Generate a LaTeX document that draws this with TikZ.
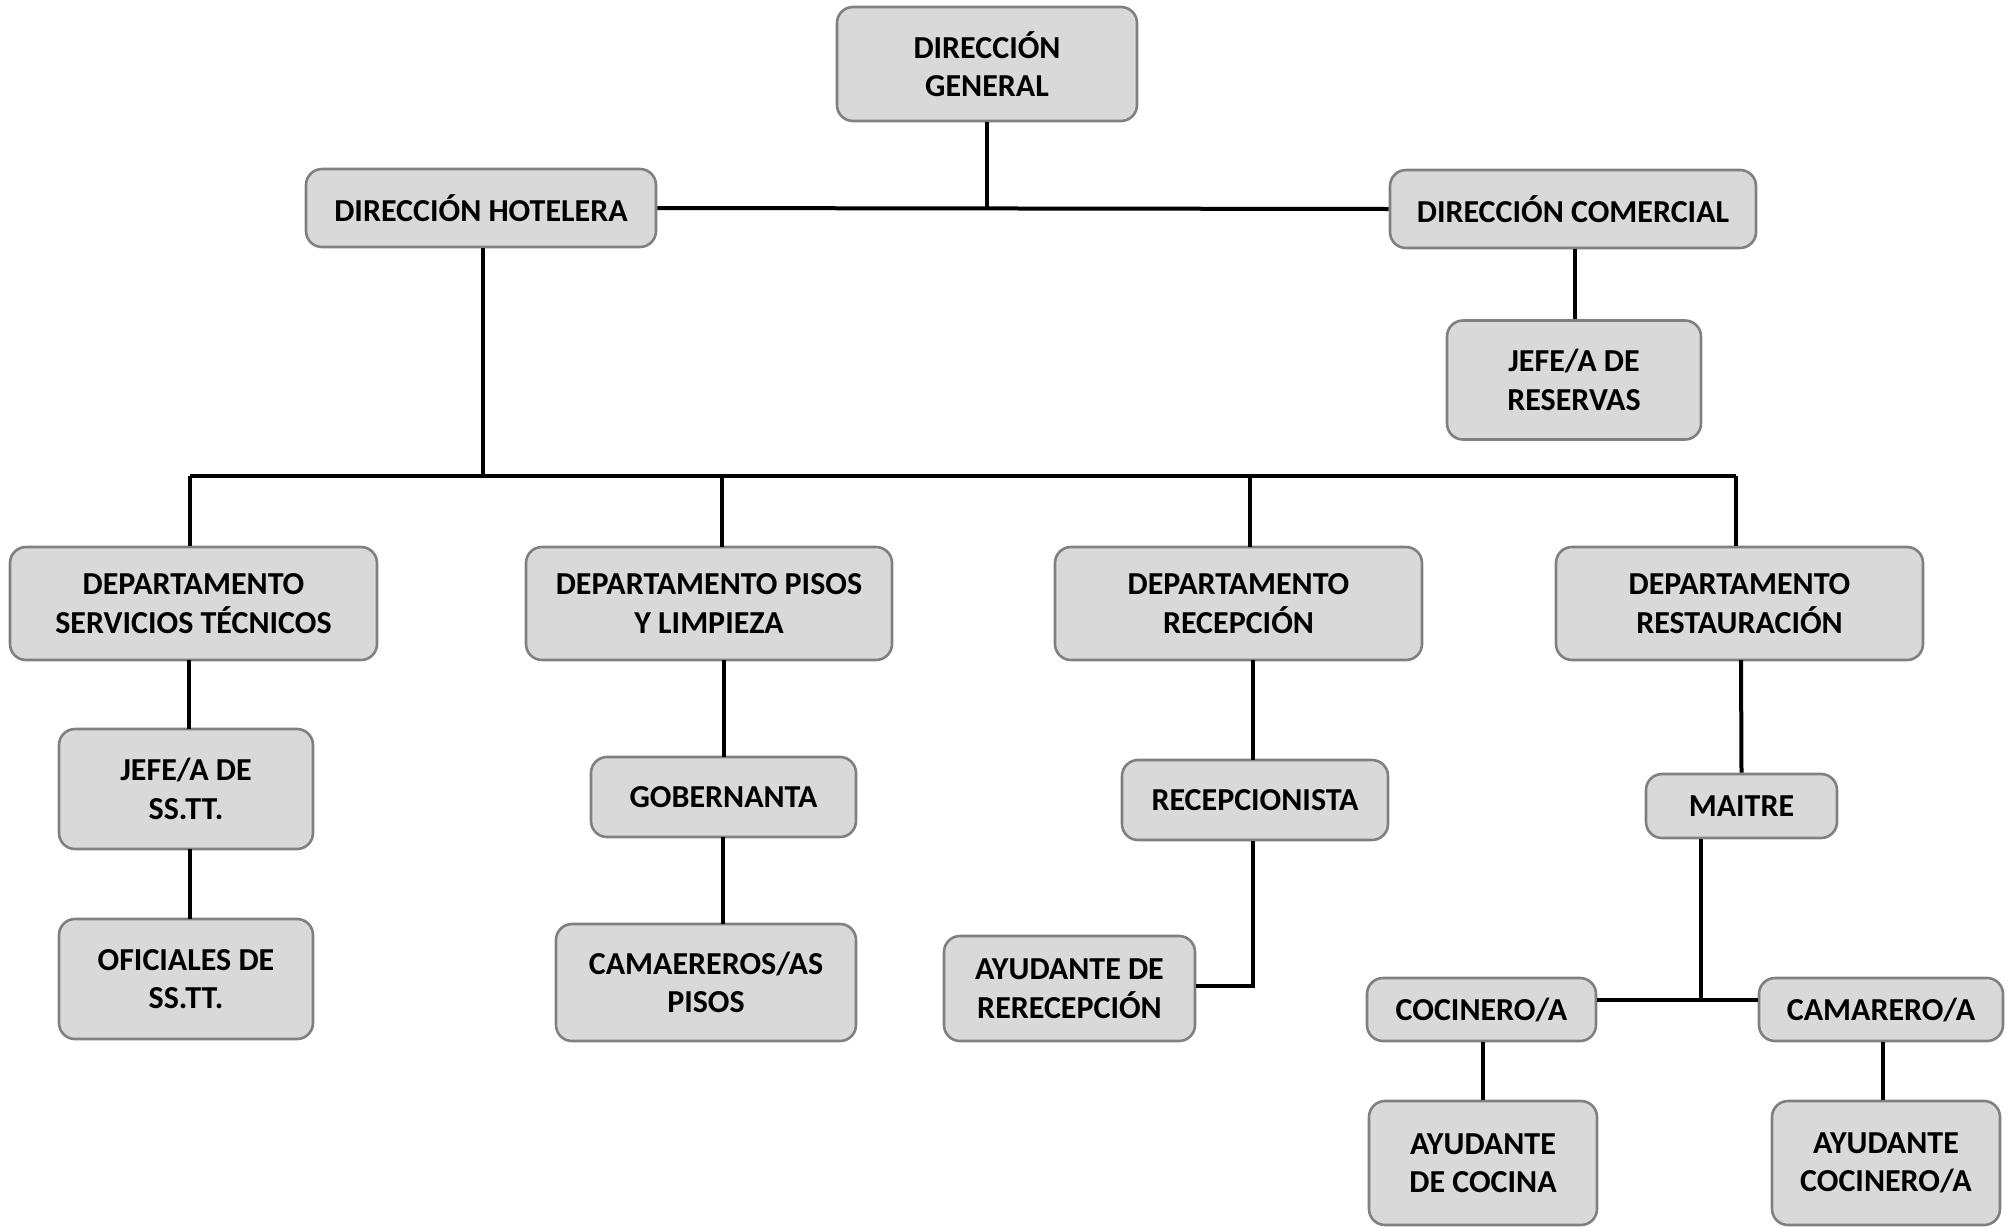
\documentclass[tikz,border=0pt]{standalone}
\usepackage{fontspec}
\setmainfont{Carlito}
\begin{document}
\begin{tikzpicture}[x=1pt,y=-1pt,
  box/.style={draw=boxborder, line width=2.6pt, fill=boxfill, rounded corners=16pt,
    align=center, inner sep=0pt, font=\fontsize{32}{38.5}\selectfont\bfseries},
  link/.style={line width=4pt, black}]
\definecolor{boxfill}{HTML}{D9D9D9}
\definecolor{boxborder}{HTML}{808080}
\useasboundingbox (0,0) rectangle (2013,1227);
\fill[white] (0,0) rectangle (2013,1227);
% nodes
\node[box, minimum width=300pt, minimum height=114pt] (dg) at (987,64) {DIRECCIÓN\\GENERAL};
\node[box, minimum width=350pt, minimum height=78pt] (dh) at (481,208) {DIRECCIÓN HOTELERA};
\node[box, minimum width=366pt, minimum height=78pt] (dc) at (1573,209) {DIRECCIÓN COMERCIAL};
\node[box, minimum width=254pt, minimum height=119pt] (jr) at (1574,380) {JEFE/A DE\\RESERVAS};
\node[box, minimum width=367pt, minimum height=113pt] (st) at (193.5,603.5) {DEPARTAMENTO\\SERVICIOS TÉCNICOS};
\node[box, minimum width=366pt, minimum height=113pt] (pl) at (709,603.5) {DEPARTAMENTO PISOS\\Y LIMPIEZA};
\node[box, minimum width=367pt, minimum height=113pt] (re) at (1238.5,603.5) {DEPARTAMENTO\\RECEPCIÓN};
\node[box, minimum width=367pt, minimum height=113pt] (rs) at (1739.5,603.5) {DEPARTAMENTO\\RESTAURACIÓN};
\node[box, minimum width=254pt, minimum height=120pt] (jst) at (186,789) {JEFE/A DE\\SS.TT.};
\node[box, minimum width=254pt, minimum height=120pt] (ost) at (186,979) {OFICIALES DE\\SS.TT.};
\node[box, minimum width=265pt, minimum height=80pt] (gob) at (723.5,797) {GOBERNANTA};
\node[box, minimum width=300pt, minimum height=117pt] (cam) at (706,982.5) {CAMAEREROS/AS\\PISOS};
\node[box, minimum width=266pt, minimum height=80pt] (rec) at (1255,800) {RECEPCIONISTA};
\node[box, minimum width=251pt, minimum height=105pt] (ayr) at (1069.5,988.5) {AYUDANTE DE\\RERECEPCIÓN};
\node[box, minimum width=191pt, minimum height=64pt] (mai) at (1741.5,806) {MAITRE};
\node[box, minimum width=229pt, minimum height=63pt] (coc) at (1481.5,1009.5) {COCINERO/A};
\node[box, minimum width=244pt, minimum height=63pt] (cmr) at (1881,1009.5) {CAMARERO/A};
\node[box, minimum width=228pt, minimum height=124pt] (ayc) at (1483,1163) {AYUDANTE\\DE COCINA};
\node[box, minimum width=228pt, minimum height=124pt] (ayk) at (1886,1163) {AYUDANTE\\COCINERO/A};
% connector points
\coordinate (top) at (987,208);
\coordinate (busL) at (190,476);
\coordinate (busR) at (1736,476);
\coordinate (bus) at (483,476);
\coordinate (rbend) at (1253,986);
\coordinate (mbend) at (1701,1000);
% connectors
\draw[link] (dh.east) -- (dc.west);
\draw[link] (dg.south) -- (top);
\draw[link] (dh.south -| bus) -- (bus);
\draw[link] (busL) -- (busR);
\draw[link] (busL) -- (busL |- st.north);
\draw[link] (721.5,476) -- (721.5,547);
\draw[link] (1250,476) -- (1250,547);
\draw[link] (busR) -- (busR |- rs.north);
\draw[link] (1575,249) -- (jr.north -| 1575,0);
\draw[link] (189,660) -- (189,729);
\draw[link] (190,849) -- (190,919);
\draw[link] (724,660) -- (724,757);
\draw[link] (723,837) -- (723,924);
\draw[link] (1253,660) -- (1253,760);
\draw[link] (rec.south -| rbend) -- (rbend) -- (ayr.east |- rbend);
\draw[link] (1741,660) -- (mai.north);
\draw[link] (mai.south -| mbend) -- (mbend);
\draw[link] (coc.east |- mbend) -- (cmr.west |- mbend);
\draw[link] (coc.south -| 1483,0) -- (ayc.north -| 1483,0);
\draw[link] (cmr.south -| 1883,0) -- (ayk.north -| 1883,0);
\end{tikzpicture}
\end{document}
